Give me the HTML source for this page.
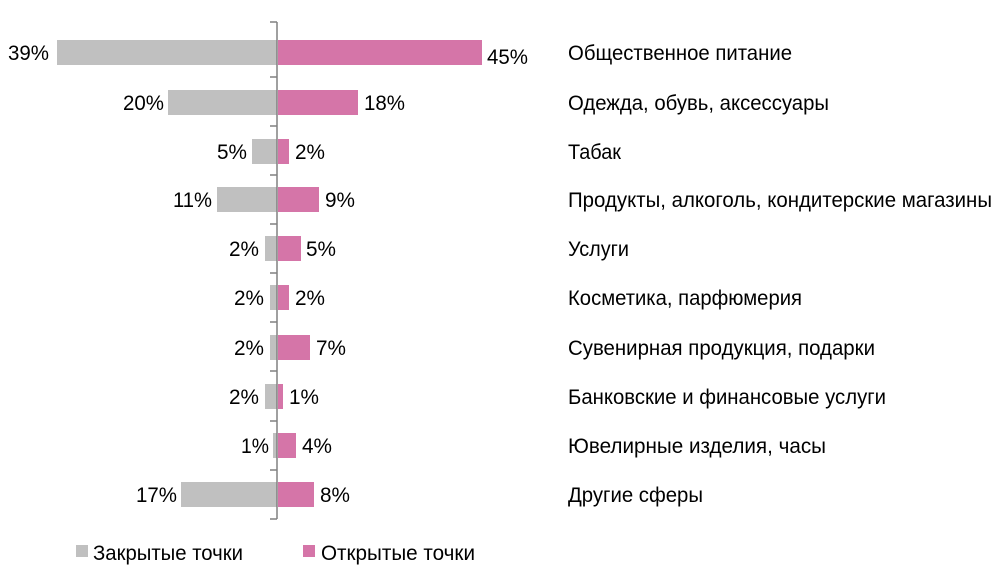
<!DOCTYPE html>
<html><head><meta charset="utf-8"><style>html,body{margin:0;padding:0;background:#fff}svg{display:block}</style></head>
<body>
<svg width="998" height="583" viewBox="0 0 998 583" xmlns="http://www.w3.org/2000/svg" font-family="'Liberation Sans', sans-serif" font-size="21" fill="#000">
<g fill="#c0c0c0">
<rect x="57" y="40" width="220" height="25"/>
<rect x="168" y="90" width="109" height="25"/>
<rect x="252" y="139" width="25" height="25"/>
<rect x="217" y="187" width="60" height="25"/>
<rect x="265" y="236" width="12" height="25"/>
<rect x="270" y="285" width="7" height="25"/>
<rect x="270" y="335" width="7" height="25"/>
<rect x="265" y="384" width="12" height="25"/>
<rect x="273" y="433" width="4" height="25"/>
<rect x="181" y="482" width="96" height="25"/>
</g>
<g fill="#d575a8">
<rect x="278" y="40" width="204" height="25"/>
<rect x="278" y="90" width="80" height="25"/>
<rect x="278" y="139" width="11" height="25"/>
<rect x="278" y="187" width="41" height="25"/>
<rect x="278" y="236" width="23" height="25"/>
<rect x="278" y="285" width="11" height="25"/>
<rect x="278" y="335" width="32" height="25"/>
<rect x="278" y="384" width="5" height="25"/>
<rect x="278" y="433" width="18" height="25"/>
<rect x="278" y="482" width="36" height="25"/>
</g>
<g stroke="#808080" stroke-width="1.5">
<line x1="277" y1="22" x2="277" y2="519"/>
<line x1="270" y1="22" x2="277" y2="22"/>
<line x1="270" y1="77" x2="277" y2="77"/>
<line x1="270" y1="126" x2="277" y2="126"/>
<line x1="270" y1="175" x2="277" y2="175"/>
<line x1="270" y1="224" x2="277" y2="224"/>
<line x1="270" y1="273" x2="277" y2="273"/>
<line x1="270" y1="322" x2="277" y2="322"/>
<line x1="270" y1="371" x2="277" y2="371"/>
<line x1="270" y1="421" x2="277" y2="421"/>
<line x1="270" y1="470" x2="277" y2="470"/>
<line x1="270" y1="519" x2="277" y2="519"/>
</g>
<g text-anchor="end">
<text x="49" y="60" textLength="41" lengthAdjust="spacingAndGlyphs">39%</text>
<text x="164" y="110" textLength="41" lengthAdjust="spacingAndGlyphs">20%</text>
<text x="247" y="159" textLength="30" lengthAdjust="spacingAndGlyphs">5%</text>
<text x="212" y="207" textLength="39" lengthAdjust="spacingAndGlyphs">11%</text>
<text x="259" y="256" textLength="30" lengthAdjust="spacingAndGlyphs">2%</text>
<text x="264" y="305" textLength="30" lengthAdjust="spacingAndGlyphs">2%</text>
<text x="264" y="355" textLength="30" lengthAdjust="spacingAndGlyphs">2%</text>
<text x="259" y="404" textLength="30" lengthAdjust="spacingAndGlyphs">2%</text>
<text x="269" y="453" textLength="28" lengthAdjust="spacingAndGlyphs">1%</text>
<text x="177" y="502" textLength="41" lengthAdjust="spacingAndGlyphs">17%</text>
</g>
<g>
<text x="487" y="64" textLength="41" lengthAdjust="spacingAndGlyphs">45%</text>
<text x="364" y="110" textLength="41" lengthAdjust="spacingAndGlyphs">18%</text>
<text x="295" y="159" textLength="30" lengthAdjust="spacingAndGlyphs">2%</text>
<text x="325" y="207" textLength="30" lengthAdjust="spacingAndGlyphs">9%</text>
<text x="306" y="256" textLength="30" lengthAdjust="spacingAndGlyphs">5%</text>
<text x="295" y="305" textLength="30" lengthAdjust="spacingAndGlyphs">2%</text>
<text x="316" y="355" textLength="30" lengthAdjust="spacingAndGlyphs">7%</text>
<text x="289" y="404" textLength="30" lengthAdjust="spacingAndGlyphs">1%</text>
<text x="302" y="453" textLength="30" lengthAdjust="spacingAndGlyphs">4%</text>
<text x="320" y="502" textLength="30" lengthAdjust="spacingAndGlyphs">8%</text>
</g>
<g>
<text x="568" y="60" textLength="224" lengthAdjust="spacingAndGlyphs">Общественное питание</text>
<text x="568" y="110" textLength="261" lengthAdjust="spacingAndGlyphs">Одежда, обувь, аксессуары</text>
<text x="568" y="159" textLength="53" lengthAdjust="spacingAndGlyphs">Табак</text>
<text x="568" y="207" textLength="424" lengthAdjust="spacingAndGlyphs">Продукты, алкоголь, кондитерские магазины</text>
<text x="568" y="256" textLength="61" lengthAdjust="spacingAndGlyphs">Услуги</text>
<text x="568" y="305" textLength="234" lengthAdjust="spacingAndGlyphs">Косметика, парфюмерия</text>
<text x="568" y="355" textLength="307" lengthAdjust="spacingAndGlyphs">Сувенирная продукция, подарки</text>
<text x="568" y="404" textLength="318" lengthAdjust="spacingAndGlyphs">Банковские и финансовые услуги</text>
<text x="568" y="453" textLength="258" lengthAdjust="spacingAndGlyphs">Ювелирные изделия, часы</text>
<text x="568" y="502" textLength="135" lengthAdjust="spacingAndGlyphs">Другие сферы</text>
</g>
<rect x="76" y="545" width="12" height="12" fill="#c0c0c0"/>
<text x="93" y="560" textLength="150" lengthAdjust="spacingAndGlyphs">Закрытые точки</text>
<rect x="303" y="545" width="12" height="12" fill="#d575a8"/>
<text x="321" y="560" textLength="154" lengthAdjust="spacingAndGlyphs">Открытые точки</text>
</svg>
</body></html>
